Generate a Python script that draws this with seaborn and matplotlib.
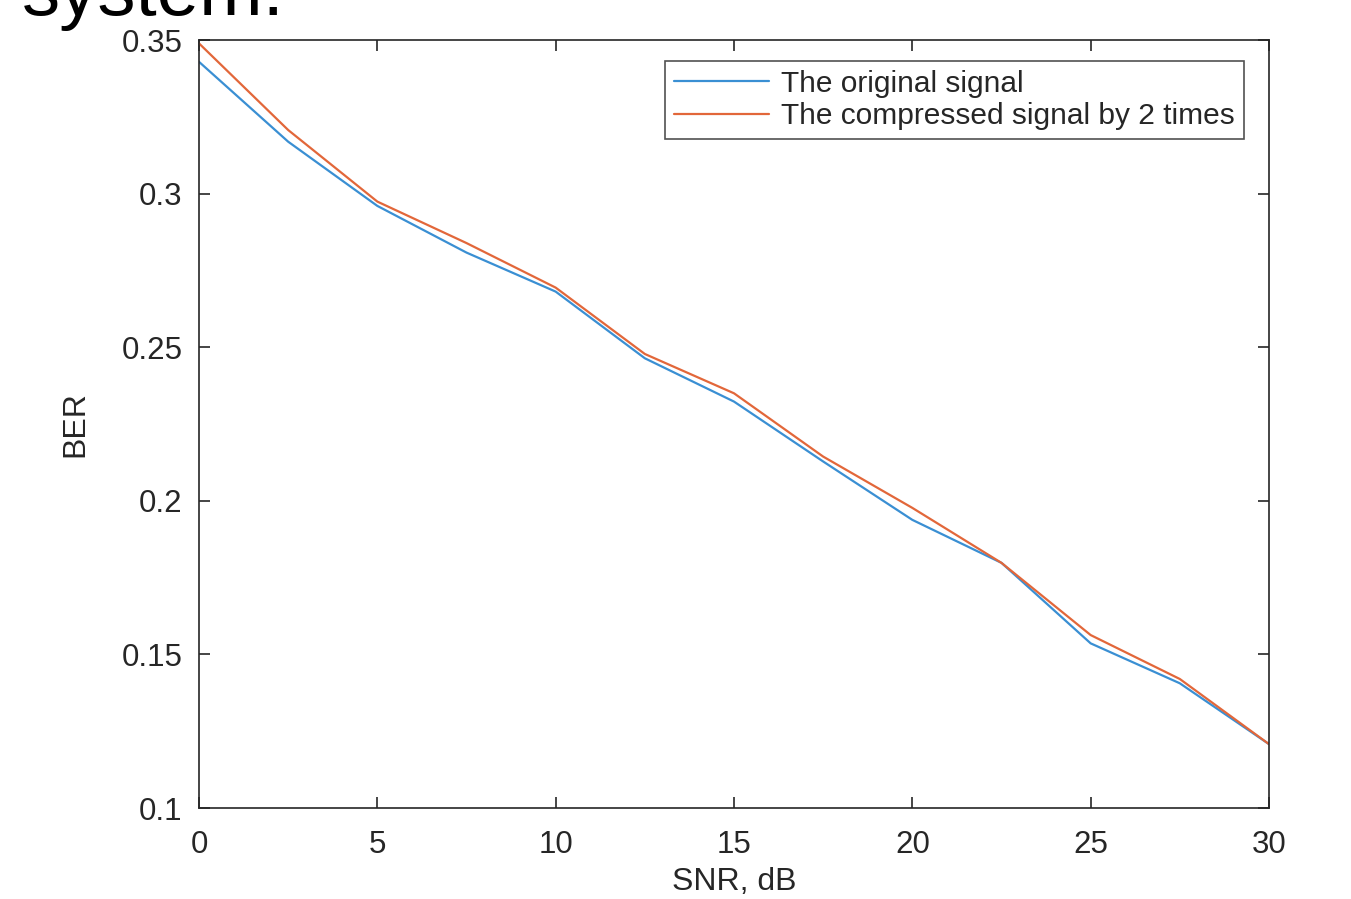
import pandas as pd
import matplotlib
matplotlib.use("Agg")
import matplotlib.pyplot as plt
import seaborn as sns
from matplotlib.ticker import FuncFormatter

snr_db = [0, 2.5, 5, 7.5, 10, 12.5, 15, 17.5, 20, 22.5, 25, 27.5, 30]
ber_original = [0.3429, 0.3169, 0.2960, 0.2808, 0.2681, 0.2464, 0.2323,
                0.2128, 0.1938, 0.1798, 0.1536, 0.1406, 0.1208]
ber_compressed = [0.3489, 0.3207, 0.2974, 0.2839, 0.2694, 0.2478, 0.2350,
                  0.2144, 0.1977, 0.1798, 0.1563, 0.1420, 0.1208]
series_names = ["The original signal", "The compressed signal by 2 times"]
y_ticks = [0.1, 0.15, 0.2, 0.25, 0.3, 0.35]
x_ticks = [0, 5, 10, 15, 20, 25, 30]


def build_frame():
    df_orig = pd.DataFrame({"snr": snr_db, "ber": ber_original, "series": series_names[0]})
    df_comp = pd.DataFrame({"snr": snr_db, "ber": ber_compressed, "series": series_names[1]})
    return pd.concat([df_orig, df_comp], ignore_index=True)


def plot_ber(df):
    sns.set_style("ticks", {"xtick.direction": "in", "ytick.direction": "in"})
    plt.rcParams["font.family"] = ["Liberation Sans", "DejaVu Sans"]

    fig = plt.figure(figsize=(13.51, 8.99), dpi=100)
    ax = fig.add_axes([0.1473, 0.1012, 0.792, 0.8543])

    palette = {series_names[0]: "#3a8fd3", series_names[1]: "#e2673a"}
    sns.lineplot(data=df, x="snr", y="ber", hue="series", palette=palette,
                 linewidth=1.6, ax=ax)

    ax.set_xlim(0, 30)
    ax.set_ylim(0.1, 0.35)
    ax.set_xticks(x_ticks)
    ax.set_yticks(y_ticks)
    ax.yaxis.set_major_formatter(FuncFormatter(lambda v, _: f"{v:g}"))
    ax.tick_params(axis="both", which="major", labelsize=22.5, colors="#262626",
                   length=8, width=1.2, top=True, right=True)
    ax.tick_params(axis="x", pad=16)
    ax.tick_params(axis="y", pad=12)
    for spine in ax.spines.values():
        spine.set_visible(True)
        spine.set_color("#262626")
        spine.set_linewidth(1.2)

    ax.set_xlabel("SNR, dB", fontsize=23, color="#262626", labelpad=5)
    ax.set_ylabel("BER", fontsize=23, color="#262626", labelpad=22)

    leg = ax.legend(loc="upper right", fontsize=21.5, frameon=True, fancybox=False,
                    handlelength=3.2, handletextpad=0.4, borderpad=0.3,
                    labelspacing=0.15, borderaxespad=0,
                    bbox_to_anchor=(0.9766, 0.9727))
    leg.get_frame().set_edgecolor("#262626")
    leg.get_frame().set_linewidth(1.2)

    # cut-off text from the surrounding document
    fig.text(0.016, 0.983, "system.", fontsize=55, color="black", va="baseline")

    fig.savefig("out.png", dpi=100)
    plt.close(fig)


if __name__ == "__main__":
    plot_ber(build_frame())
